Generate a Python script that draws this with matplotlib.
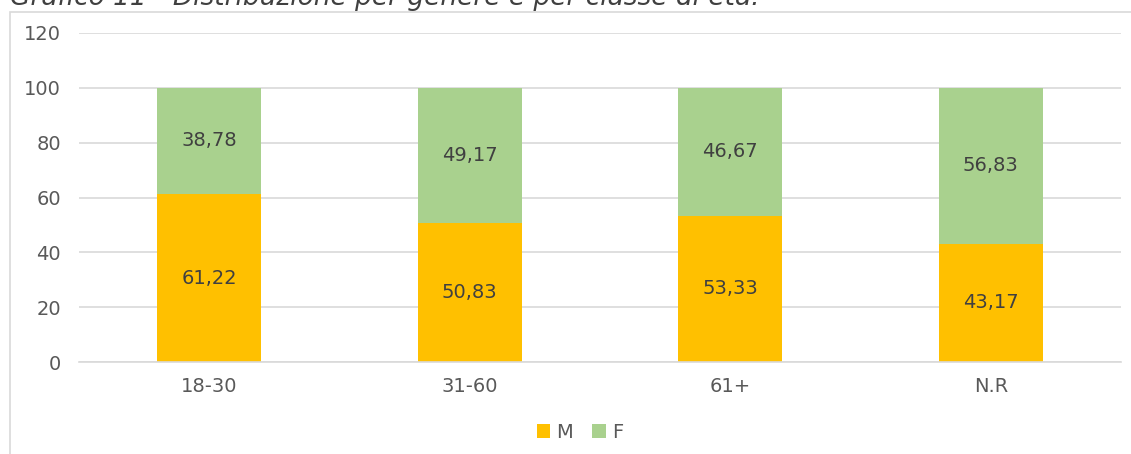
import matplotlib.pyplot as plt
from matplotlib.patches import Rectangle

# age classes and share (%) of men / women in each
classes = ["18-30", "31-60", "61+", "N.R"]
male = [61.22, 50.83, 53.33, 43.17]
female = [38.78, 49.17, 46.67, 56.83]

M_COLOUR = "#FFC000"
F_COLOUR = "#A9D18E"
TEXT = "#595959"
GRID = "#D9D9D9"

fig = plt.figure(figsize=(11.31, 4.54), dpi=100)
ax = fig.add_axes([79 / 1131, 1 - 362 / 454, 1042 / 1131, 329 / 454])

pos = range(len(classes))
bars_m = ax.bar(pos, male, width=0.4, color=M_COLOUR, label="M", zorder=2)
bars_f = ax.bar(pos, female, width=0.4, bottom=male, color=F_COLOUR, label="F", zorder=2)

def fmt(v):
    return f"{v:.2f}".replace(".", ",")

for rect, v in zip(bars_m, male):
    ax.text(rect.get_x() + rect.get_width() / 2, v / 2, fmt(v),
            ha="center", va="center", fontsize=14, color="#404040")
for rect, b, v in zip(bars_f, male, female):
    ax.text(rect.get_x() + rect.get_width() / 2, b + v / 2, fmt(v),
            ha="center", va="center", fontsize=14, color="#404040")

ax.set_xlim(-0.5, len(classes) - 0.5)
ax.set_ylim(0, 120)
ax.set_yticks(range(0, 121, 20))
ax.set_xticks(list(pos))
ax.set_xticklabels(classes)
ax.yaxis.grid(True, color=GRID, linewidth=1.2, zorder=0)
ax.tick_params(length=0, labelsize=14, labelcolor=TEXT)
ax.tick_params(axis="y", pad=13)
ax.tick_params(axis="x", pad=11)
for side in ["left", "right", "top"]:
    ax.spines[side].set_visible(False)
ax.spines["bottom"].set_color(GRID)
ax.spines["bottom"].set_linewidth(1.2)

fig.legend(loc="center", bbox_to_anchor=(580 / 1131, 1 - 432 / 454), ncol=2,
           frameon=False, fontsize=14, handlelength=0.7, handleheight=0.7,
           handletextpad=0.3, columnspacing=1.0, labelcolor=TEXT)

# chart frame
fig.patches.append(Rectangle((10 / 1131, -0.05), 1.1, 1 - 12 / 454 + 0.05,
                             transform=fig.transFigure, fill=False,
                             edgecolor=GRID, linewidth=1.2))

fig.text(10 / 1131, 1 - 5 / 454, "Grafico 11 - Distribuzione per genere e per classe di età.",
         fontsize=19, style="italic", color="#404040", va="baseline", ha="left")

fig.savefig("out.png", dpi=100)
